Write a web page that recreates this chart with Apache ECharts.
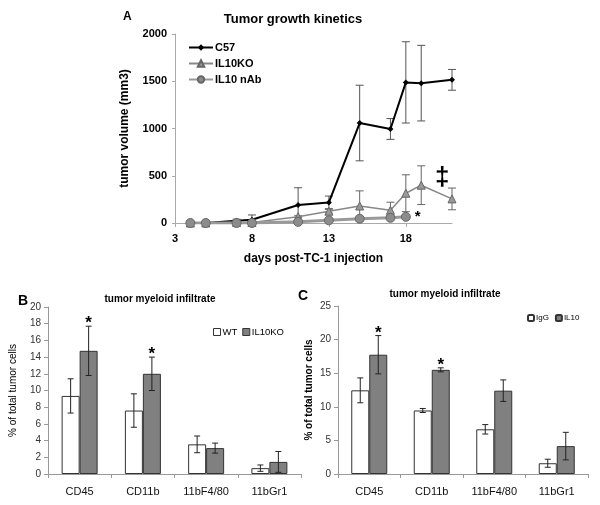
<!DOCTYPE html>
<html>
<head>
<meta charset="utf-8">
<script src="https://cdn.jsdelivr.net/npm/echarts@6/dist/echarts.min.js"></script>
<style>
    html, body { margin: 0; padding: 0; background: #fff; }
    #main { width: 600px; height: 505px; }
</style>
</head>
<body>
<div id="main"></div>
<script>
// panel A: tumor growth
var days = [4, 5, 7, 8, 11, 13, 15, 17, 18, 19, 21],
    c57 = [0, 0, 25, 35, 190, 218, 1058, 995, 1488, 1480, 1515],
    c57Err = [0, 0, 15, 50, 183, 67, 400, 110, 430, 400, 110],
    ko = [0, 0, 5, 5, 67, 125, 180, 135, 315, 400, 255],
    koErr = [0, 0, 0, 0, 10, 20, 160, 85, 195, 205, 115],
    nabDays = [4, 5, 7, 8, 11, 13, 15, 17, 18],
    nab = [0, 0, 0, 0, 12, 28, 45, 55, 65],
    nabErr = [0, 0, 0, 0, 5, 8, 10, 15, 15],
    dayTicks = [3, 8, 13, 18];

// panels B and C: myeloid infiltrate
var cells = ['CD45', 'CD11b', '11bF4/80', '11bGr1'],
    wt = [9.35, 7.6, 3.55, 0.7],
    wtErr = [2.05, 2.0, 1.0, 0.38],
    il10ko = [14.75, 12.0, 3.1, 1.45],
    il10koErr = [2.95, 2.0, 0.6, 1.25],
    koSig = [1, 1, 0, 0],
    igg = [12.45, 9.45, 6.65, 1.6],
    iggErr = [1.85, 0.3, 0.7, 0.6],
    il10 = [17.75, 15.5, 12.4, 4.15],
    il10Err = [2.85, 0.3, 1.6, 2.05],
    il10Sig = [1, 1, 0, 0];

var chart = echarts.init(document.getElementById('main'));
var font = 'Liberation Sans, Arial, sans-serif';

function pairs(xs, ys, es) {
    var out = [];
    for (var i = 0; i < xs.length; i++) {
        out.push([xs[i], ys[i], es ? es[i] : 0]);
    }
    return out;
}

function catRows(ys, es, sig) {
    var out = [];
    for (var i = 0; i < ys.length; i++) {
        out.push([i, ys[i], es[i], sig ? sig[i] : 0]);
    }
    return out;
}

// error bars (+ optional star) drawn through the axes
function errBars(offset, color, cap) {
    return function (params, api) {
        var x = api.value(0), y = api.value(1), e = api.value(2);
        if (!e) {
            return null;
        }
        var hi = api.coord([x, y + e]),
            lo = api.coord([x, y - e]),
            px = hi[0] + offset,
            st = { stroke: color, lineWidth: 1 },
            kids = [
                { type: 'line', shape: { x1: px, y1: hi[1], x2: px, y2: lo[1] }, style: st },
                { type: 'line', shape: { x1: px - cap, y1: hi[1], x2: px + cap, y2: hi[1] }, style: st },
                { type: 'line', shape: { x1: px - cap, y1: lo[1], x2: px + cap, y2: lo[1] }, style: st }
            ];
        if (api.value(3)) {
            kids.push({
                type: 'text',
                style: {
                    text: '*', x: px, y: hi[1] + 6, align: 'center', verticalAlign: 'bottom',
                    font: 'bold 17px ' + font, fill: '#000'
                }
            });
        }
        return { type: 'group', children: kids };
    };
}

function barAxisY(max, step, grid, name, bold) {
    return {
        type: 'value', gridIndex: grid, min: 0, max: max, interval: step,
        name: name, nameLocation: 'middle', nameGap: grid === 1 ? 30 : 24,
        nameTextStyle: { fontFamily: font, fontSize: 10, fontWeight: bold ? 'bold' : 'normal', color: '#000' },
        axisLine: { show: true, lineStyle: { color: '#999' } },
        axisTick: { show: true, length: 4, lineStyle: { color: '#999' } },
        axisLabel: { fontFamily: font, fontSize: 10, color: '#333', margin: 7 },
        splitLine: { show: false }
    };
}

function barAxisX(grid) {
    return {
        type: 'category', gridIndex: grid, data: cells,
        axisLine: { lineStyle: { color: '#999' } },
        axisTick: { show: true, interval: 0, length: 4, lineStyle: { color: '#999' } },
        axisLabel: { fontFamily: font, fontSize: 11, color: '#111', margin: 12 }
    };
}

var whiteBar = { color: '#fff', borderColor: '#333', borderWidth: 1 },
    grayBar = { color: '#808080', borderColor: '#333', borderWidth: 1 };

chart.setOption({
    animation: false,
    backgroundColor: '#fff',
    title: [{
        text: 'Tumor growth kinetics', left: 288, top: 8, textAlign: 'center',
        textStyle: { fontFamily: font, fontSize: 13, fontWeight: 'bold', color: '#000' }
    }, {
        text: 'tumor myeloid infiltrate', left: 155, top: 289, textAlign: 'center',
        textStyle: { fontFamily: font, fontSize: 10, fontWeight: 'bold', color: '#000' }
    }, {
        text: 'tumor myeloid infiltrate', left: 440, top: 284, textAlign: 'center',
        textStyle: { fontFamily: font, fontSize: 10, fontWeight: 'bold', color: '#000' }
    }],
    legend: [{
        data: ['C57', 'IL10KO', 'IL10 nAb'], orient: 'vertical', left: 183, top: 37,
        itemGap: 5, itemWidth: 24, itemHeight: 8,
        textStyle: { fontFamily: font, fontSize: 11, fontWeight: 'bold', color: '#000', padding: [0, 0, 0, -3] }
    }, {
        data: [
            { name: 'WT', icon: 'rect', itemStyle: whiteBar },
            { name: 'IL10KO', icon: 'rect', itemStyle: grayBar }
        ],
        left: 213, top: 327, width: 120, padding: 0, itemGap: 5, itemWidth: 7, itemHeight: 7,
        textStyle: { fontFamily: font, fontSize: 9.5, color: '#000', padding: [0, 0, 0, -3] }
    }, {
        data: ['IgG', 'IL10'], left: 527, top: 314, width: 100, padding: 0,
        itemGap: 6, itemWidth: 6, itemHeight: 6,
        textStyle: { fontFamily: font, fontSize: 8, color: '#000', padding: [0, 0, 0, -3] }
    }],
    graphic: [
        { type: 'text', left: 123, top: 11, style: { text: 'A', font: 'bold 12px ' + font, fill: '#000' } },
        { type: 'text', left: 18, top: 294, style: { text: 'B', font: 'bold 14px ' + font, fill: '#000' } },
        { type: 'text', left: 298, top: 289, style: { text: 'C', font: 'bold 14px ' + font, fill: '#000' } },
        { type: 'text', left: 435, top: 165, style: { text: '\u2021', font: 'bold 26px ' + font, fill: '#000' } }
    ],
    grid: [
        { left: 175, top: 34, width: 277, height: 189 },
        { left: 48, top: 307, width: 253, height: 167 },
        { left: 338, top: 306, width: 250, height: 168 }
    ],
    xAxis: [{
        type: 'value', gridIndex: 0, min: 3, max: 21,
        name: 'days post-TC-1 injection', nameLocation: 'middle', nameGap: 30,
        nameTextStyle: { fontFamily: font, fontSize: 12, fontWeight: 'bold', color: '#000' },
        axisLine: { lineStyle: { color: '#aaa' } },
        axisTick: { show: true, length: 4, customValues: dayTicks, lineStyle: { color: '#aaa' } },
        axisLabel: { customValues: dayTicks, fontFamily: font, fontSize: 11, fontWeight: 'bold', color: '#000', margin: 10 },
        splitLine: { show: false }
    }, barAxisX(1), barAxisX(2)],
    yAxis: [{
        type: 'value', gridIndex: 0, min: 0, max: 2000, interval: 500,
        name: 'tumor volume (mm3)', nameLocation: 'middle', nameGap: 44,
        nameTextStyle: { fontFamily: font, fontSize: 12, fontWeight: 'bold', color: '#000' },
        axisLine: { show: true, lineStyle: { color: '#aaa' } },
        axisTick: { show: true, length: 3, lineStyle: { color: '#aaa' } },
        axisLabel: {
            formatter: function (v) { return String(v); },
            fontFamily: font, fontSize: 11, fontWeight: 'bold', color: '#000', margin: 8
        },
        splitLine: { show: false }
    }, barAxisY(20, 2, 1, '% of total tumor cells', false), barAxisY(25, 5, 2, '% of total tumor cells', true)],
    series: [{
        type: 'custom', xAxisIndex: 0, yAxisIndex: 0, z: 1,
        renderItem: errBars(0, '#555', 4), data: pairs(days, c57, c57Err)
    }, {
        type: 'custom', xAxisIndex: 0, yAxisIndex: 0, z: 1,
        renderItem: errBars(0, '#666', 4), data: pairs(days, ko, koErr)
    }, {
        type: 'custom', xAxisIndex: 0, yAxisIndex: 0, z: 1,
        renderItem: errBars(0, '#666', 3), data: pairs(nabDays, nab, nabErr)
    }, {
        name: 'C57', type: 'line', xAxisIndex: 0, yAxisIndex: 0, z: 3,
        data: pairs(days, c57), symbol: 'diamond', symbolSize: 6, showAllSymbol: true,
        lineStyle: { color: '#000', width: 2 }, itemStyle: { color: '#000' }
    }, {
        name: 'IL10KO', type: 'line', xAxisIndex: 0, yAxisIndex: 0, z: 4,
        data: pairs(days, ko), symbol: 'triangle', symbolSize: 8, showAllSymbol: true,
        lineStyle: { color: '#888', width: 1.5 },
        itemStyle: { color: '#999', borderColor: '#666', borderWidth: 1 }
    }, {
        name: 'IL10 nAb', type: 'line', xAxisIndex: 0, yAxisIndex: 0, z: 5,
        data: pairs(nabDays, nab), symbol: 'circle', symbolSize: 9, showAllSymbol: true,
        lineStyle: { color: '#999', width: 3 },
        itemStyle: { color: '#8c8c8c', borderColor: '#666', borderWidth: 1 },
        label: {
            show: true, position: 'right', distance: 4,
            formatter: function (p) { return p.dataIndex === nabDays.length - 1 ? '*' : ''; },
            fontFamily: font, fontSize: 15, fontWeight: 'bold', color: '#000'
        }
    }, {
        name: 'WT', type: 'bar', xAxisIndex: 1, yAxisIndex: 1, data: wt,
        barWidth: 18, barGap: '0%', itemStyle: whiteBar
    }, {
        name: 'IL10KO', type: 'bar', xAxisIndex: 1, yAxisIndex: 1, data: il10ko,
        barWidth: 18, barGap: '0%', itemStyle: grayBar
    }, {
        type: 'custom', xAxisIndex: 1, yAxisIndex: 1, z: 5,
        renderItem: errBars(-9, '#222', 3), data: catRows(wt, wtErr)
    }, {
        type: 'custom', xAxisIndex: 1, yAxisIndex: 1, z: 5,
        renderItem: errBars(9, '#222', 3), data: catRows(il10ko, il10koErr, koSig)
    }, {
        name: 'IgG', type: 'bar', xAxisIndex: 2, yAxisIndex: 2, data: igg,
        barWidth: 18, barGap: '0%', itemStyle: whiteBar
    }, {
        name: 'IL10', type: 'bar', xAxisIndex: 2, yAxisIndex: 2, data: il10,
        barWidth: 18, barGap: '0%', itemStyle: grayBar
    }, {
        type: 'custom', xAxisIndex: 2, yAxisIndex: 2, z: 5,
        renderItem: errBars(-9, '#222', 3), data: catRows(igg, iggErr)
    }, {
        type: 'custom', xAxisIndex: 2, yAxisIndex: 2, z: 5,
        renderItem: errBars(9, '#222', 3), data: catRows(il10, il10Err, il10Sig)
    }]
});
</script>
</body>
</html>
